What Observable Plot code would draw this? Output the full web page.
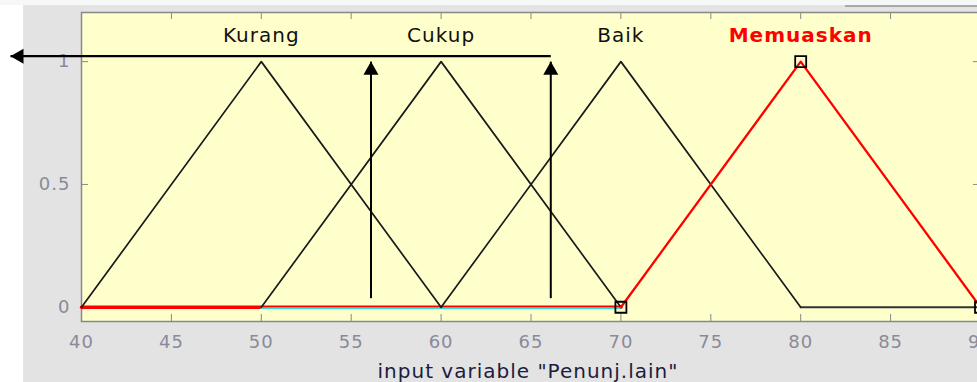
<!DOCTYPE html>
<html>
<head>
<meta charset="utf-8">
<script src="https://cdn.jsdelivr.net/npm/d3@7"></script>
<script src="https://cdn.jsdelivr.net/npm/@observablehq/plot@0.6"></script>
<style>
html, body { margin: 0; padding: 0; overflow: hidden; background: #e3e3e3; }
#chart svg text { letter-spacing: 1px; }
</style>
</head>
<body>
<div id="chart"></div>
<script>
// ---- data ----
const mfNames = ["Kurang", "Cukup", "Baik", "Memuaskan"];
const mfParams = [[40, 50, 60], [50, 60, 70], [60, 70, 80], [70, 80, 90]];
const selectedMf = "Memuaskan";
const xTicks = [40, 45, 50, 55, 60, 65, 70, 75, 80, 85, 90];
const yTicks = [0, 0.5, 1];
const axisTitle = ['input variable "Penunj.lain"'];
// zero-level segments visible on the baseline
const redZero = [[40, 0], [70, 0]];
const cyanZero = [[50, 0], [70, 0]];
const blackZero = [[80, 0], [90, 0]];
// annotation arrows (data units)
const arrowH = [{x1: 66.1, y1: 1.022, x2: 36.05, y2: 1.022}];
const arrowV = [
  {x1: 56.1, y1: 0.037, x2: 56.1, y2: 1.0},
  {x1: 66.1, y1: 0.037, x2: 66.1, y2: 1.0}
];

// ---- derived ----
const mfPoints = mfParams.flatMap((p, i) => [
  {name: mfNames[i], x: p[0], y: 0},
  {name: mfNames[i], x: p[1], y: 1},
  {name: mfNames[i], x: p[2], y: 0}
]);
const selPoints = mfPoints.filter(d => d.name === selectedMf);
const otherPoints = mfPoints.filter(d => d.name !== selectedMf);
const labelY = 1.105;
const gray = "#888888";
const tickText = "#8a8a9a";

const chart = Plot.plot({
  width: 983,
  height: 382,
  marginLeft: 81,
  marginRight: 3,
  marginTop: 12,
  marginBottom: 61,
  x: {domain: [40, 90]},
  y: {domain: [-0.058, 1.2]},
  style: {fontFamily: "'DejaVu Sans', sans-serif"},
  marks: [
    Plot.frame({fill: "#ffffcc", stroke: null}),
    // inward ticks
    Plot.tickX(xTicks, {x: d => d, stroke: gray, insetTop: 302}),
    Plot.tickX(xTicks, {x: d => d, stroke: gray, insetBottom: 302}),
    Plot.tickY(yTicks, {y: d => d, stroke: gray, insetRight: 892}),
    Plot.tickY(yTicks, {y: d => d, stroke: gray, insetLeft: 892}),
    Plot.frame({stroke: gray, strokeWidth: 1.5}),
    // zero-level segments
    Plot.line(redZero, {stroke: "red", strokeWidth: 3.3}),
    Plot.line(cyanZero, {stroke: "#33e6cc", strokeWidth: 1.7, dy: 0.9}),
    Plot.line(blackZero, {stroke: "#333333", strokeWidth: 2}),
    // membership functions
    Plot.line(otherPoints, {x: "x", y: "y", z: "name", stroke: "#1a1a1a", strokeWidth: 1.7}),
    Plot.line(selPoints, {x: "x", y: "y", stroke: "red", strokeWidth: 2.3}),
    Plot.dot(selPoints, {x: "x", y: "y", symbol: "square", r: 6.2, stroke: "black", fill: "none", strokeWidth: 1.8}),
    // axes
    Plot.axisX(xTicks, {anchor: "bottom", tickSize: 0, tickPadding: 14, fontSize: 18, fill: tickText, label: null, tickFormat: d => String(d)}),
    Plot.axisY(yTicks, {anchor: "left", tickSize: 0, tickPadding: 11, fontSize: 18, fill: tickText, label: null, tickFormat: d => String(d)}),
    Plot.text(axisTitle, {frameAnchor: "bottom", text: d => d, dy: 50, dx: -3, fontSize: 20, fill: "#1c1c3c", lineAnchor: "middle"}),
    // MF names
    Plot.text(mfNames.filter(n => n !== selectedMf), {
      x: n => mfParams[mfNames.indexOf(n)][1], y: () => labelY, text: d => d,
      fontSize: 20, fill: "#111111", lineAnchor: "middle"
    }),
    Plot.text([selectedMf], {
      x: n => mfParams[mfNames.indexOf(n)][1], y: () => labelY, text: d => d,
      fontSize: 20, fill: "red", fontWeight: "bold", lineAnchor: "middle"
    }),
    // arrows
    Plot.link(arrowH, {x1: "x1", y1: "y1", x2: "x2", y2: "y2", stroke: "black", strokeWidth: 2.2}),
    Plot.link(arrowV, {x1: "x1", y1: "y1", x2: "x2", y2: "y2", stroke: "black", strokeWidth: 2}),
    Plot.dot(arrowH, {x: "x2", y: "y2", symbol: "triangle", r: 5.6, fill: "black", stroke: null, rotate: -90, dx: 8.66}),
    Plot.dot(arrowV, {x: "x2", y: "y2", symbol: "triangle", r: 5.6, fill: "black", stroke: null, dy: 8.66})
  ]
});
chart.style.maxWidth = "none";
chart.style.display = "block";
chart.style.background =
  "linear-gradient(#a8a8a8, #a8a8a8) 845px 5px / 140px 2px no-repeat," +
  "linear-gradient(to bottom, #f7f7f7 0 5px, transparent 5px)," +
  "linear-gradient(to right, #ffffff 0 23px, #e3e3e3 23px)";
document.getElementById("chart").appendChild(chart);
</script>
</body>
</html>
